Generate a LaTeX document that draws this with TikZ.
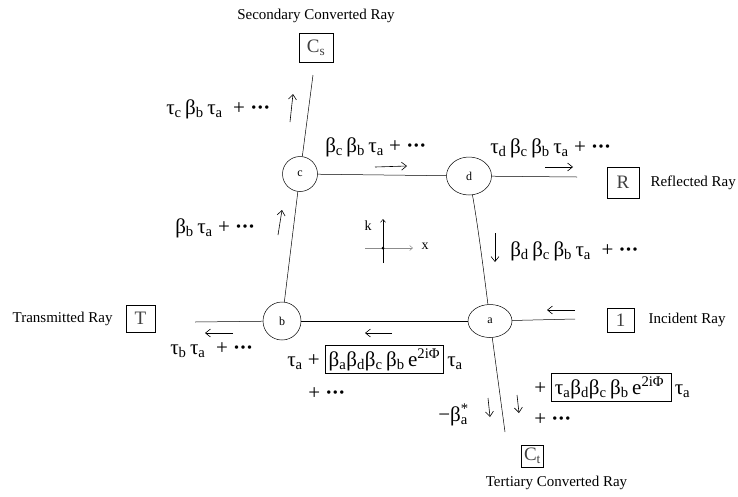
\documentclass[tikz,border=0pt]{standalone}
\usepackage{fontspec}
\setmainfont{Liberation Serif}
\usetikzlibrary{arrows.meta,positioning,shapes.geometric}
\newcommand{\sbs}[1]{\textsubscript{#1}}
\newcommand{\sps}[1]{\textsuperscript{#1}}
\newcommand{\mdots}{\textbf{·\kern-0.5pt·\kern-0.5pt·}}
\setlength{\fboxsep}{3pt}
\setlength{\fboxrule}{0.6pt}
\tikzset{
  junc/.style={draw,circle,minimum size=35pt,inner sep=0pt,font=\fontsize{12}{13}\selectfont},
  juncel/.style={draw,ellipse,inner sep=0pt,font=\fontsize{12}{13}\selectfont},
  port/.style={draw,inner sep=0pt,font=\fontsize{19}{20}\selectfont,text=black!75},
  rayname/.style={font=\fontsize{15}{16}\selectfont,inner sep=0pt},
  amp/.style={font=\fontsize{21}{23}\selectfont,inner sep=0pt,anchor=base west},
  flow/.style={-{Straight Barb[length=5pt,width=8pt]},line width=0.6pt},
}

\begin{document}
\begin{tikzpicture}[x=1pt,y=-1pt,line width=0.5pt]
\useasboundingbox (0,0) rectangle (738,496);
% junctions
\node[junc] (c) at (300,174) {c};
\node[juncel,minimum width=45pt,minimum height=38pt] (d) at (469,176) {d};
\node[junc,minimum size=38pt] (b) at (282,321) {b};
\node[juncel,minimum width=44pt,minimum height=33pt] (a) at (490,321) {a};
% ports
\node[port,minimum width=34pt,minimum height=29pt] (cs) at (316,47.5) {C\sbs{s}};
\node[port,minimum width=32pt,minimum height=31pt] (refl) at (623,182.5) {R};
\node[port,minimum width=27pt,minimum height=24pt] (inc) at (620.5,320) {1};
\node[port,minimum width=29pt,minimum height=27pt] (trans) at (140.5,318.5) {T};
\node[port,minimum width=22pt,minimum height=22pt] (ct) at (532.5,456) {C\sbs{t}};
\node[rayname,above=10pt of cs] (csname) {Secondary Converted Ray};
\node[rayname,right=11pt of refl] (reflname) {Reflected Ray};
\node[rayname,right=14pt of inc] (incname) {Incident Ray};
\node[rayname,left=13pt of trans] (transname) {Transmitted Ray};
\node[rayname,below=9pt of ct,xshift=24pt] (ctname) {Tertiary Converted Ray};
% free ends of the rays
\coordinate (cs-end) at (313,75);
\coordinate (refl-end) at (577,177);
\coordinate (inc-end) at (575,319);
\coordinate (trans-end) at (195,322);
\coordinate (ct-end) at (505,432);
% cell
\draw (c) -- (d);
\draw (b) -- (a);
\draw (c) -- (b);
\draw (d) .. controls (477,220) and (483,265) .. (a);
\draw (c) -- (cs-end);
\draw (d) -- (refl-end);
\draw (a) -- (inc-end);
\draw (b) -- (trans-end);
\draw (a) -- (ct-end);
% axes
\coordinate (o) at (383,248);
\draw[black!45,-{Straight Barb[length=3pt,width=5pt]}] (365,248) -- (413,248);
\draw[-{Straight Barb[length=3pt,width=5pt]}] (383,263) -- (383,219);
\fill (o) circle (1.5pt);
\node[font=\fontsize{14}{15}\selectfont] (kname) at (368,226) {k};
\node[font=\fontsize{14}{15}\selectfont] (xname) at (425,246) {x};
% direction arrows
\foreach \xa/\ya/\xb/\yb in {290/122/293/94, 375/167/407/166, 545/167/573/167,
    495/233/495/262, 278/235/282/210, 233/333/205/333, 392/333/365/333,
    575/310/547/310, 488/398/490/417, 517/395/519/413}
  \draw[flow] (\xa,\ya) -- (\xb,\yb);
% amplitudes
\node[amp] (amp1) at (166,114) {τ\sbs{c}\,β\sbs{b}\,τ\sbs{a} \ + \mdots};
\node[amp] (amp2) at (325,152) {β\sbs{c}\,β\sbs{b}\,τ\sbs{a} + \mdots};
\node[amp] (amp3) at (490,153) {τ\sbs{d}\,β\sbs{c}\,β\sbs{b}\,τ\sbs{a} + \mdots};
\node[amp] (amp4) at (510,256) {β\sbs{d}\,β\sbs{c}\,β\sbs{b}\,τ\sbs{a} \ + \mdots};
\node[amp] (amp5) at (175,233) {β\sbs{b}\,τ\sbs{a} + \mdots};
\node[amp] (amp6) at (170,354) {τ\sbs{b}\,τ\sbs{a} \ + \mdots};
\node[amp] (amp7) at (287,366) {τ\sbs{a} + \fbox{β\sbs{a}β\sbs{d}β\sbs{c}\,β\sbs{b}\,e\sps{2iΦ}}\,τ\sbs{a}};
\node[amp] (amp8) at (308,399) {+ \mdots};
\node[amp] (amp9) at (438,421) {−β\makebox[0pt][l]{\sps{*}}\sbs{a}};
\node[amp] (amp10) at (534,394) {+ \fbox{τ\sbs{a}β\sbs{d}β\sbs{c}\,β\sbs{b}\,e\sps{2iΦ}\,}\,τ\sbs{a}};
\node[amp] (amp11) at (534,425) {+ \mdots};
\end{tikzpicture}
\end{document}
